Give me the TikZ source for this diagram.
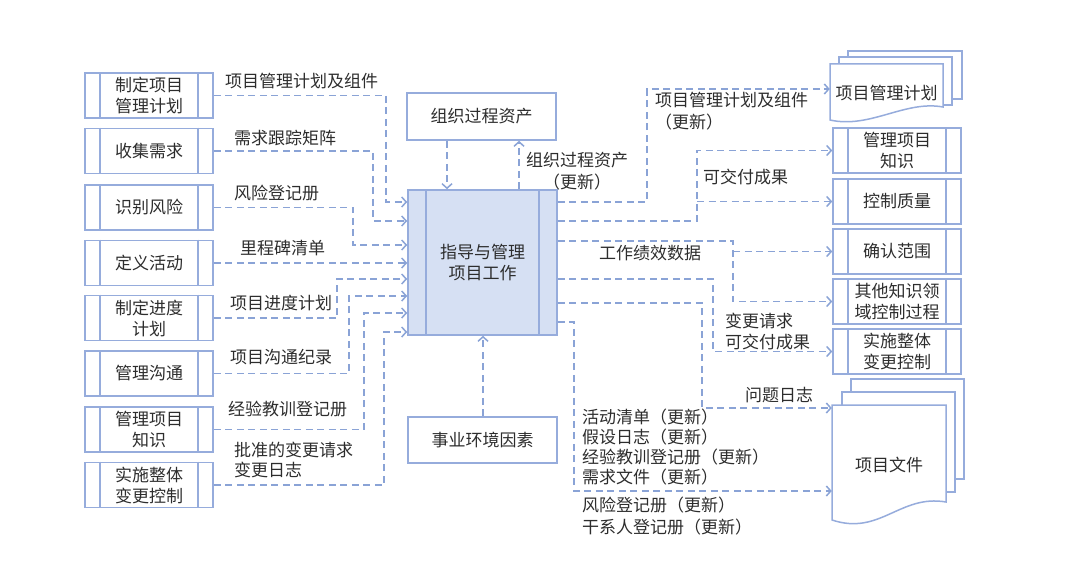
\documentclass[tikz,border=0pt]{standalone}
\usepackage{fontspec}
\setmainfont{Noto Sans CJK SC}
\usetikzlibrary{arrows.meta}
\definecolor{ln}{RGB}{138,163,214}
\definecolor{bx}{RGB}{150,172,220}
\definecolor{fillc}{RGB}{214,224,243}
\definecolor{txt}{RGB}{45,45,45}
\begin{document}
\begin{tikzpicture}[x=1pt,y=-1pt,
  font=\fontsize{17}{21}\selectfont, text=txt,
  proc/.style={draw=bx, line width=1.6pt, minimum width=128pt, minimum height=45pt, align=center, inner sep=0pt},
  plainbox/.style={draw=bx, line width=1.6pt, minimum width=149pt, minimum height=46pt, align=center, inner sep=0pt, fill=white},
  dline/.style={draw=ln, line width=1.8pt, dash pattern=on 7pt off 4.5pt},
  flow/.style={dline, -{Straight Barb[length=4.5pt,width=10pt,line width=1.5pt]}},
  lbl/.style={inner sep=0pt, anchor=west, align=left},
  docpage/.style={draw=bx, line width=1.5pt, fill=white}
]
\useasboundingbox (0,0) rectangle (1067,583);

% left process boxes
\node[proc] (L1) at (149,95.5) {制定项目\\管理计划};
\node[proc] (L2) at (149,151) {收集需求};
\node[proc] (L3) at (149,207.5) {识别风险};
\node[proc] (L4) at (149,263) {定义活动};
\node[proc] (L5) at (149,318) {制定进度\\计划};
\node[proc] (L6) at (149,373.5) {管理沟通};
\node[proc] (L7) at (149,429.5) {管理项目\\知识};
\node[proc] (L8) at (149,485) {实施整体\\变更控制};

% right process boxes
\node[proc] (R1) at (897,150.5) {管理项目\\知识};
\node[proc] (R2) at (897,201.5) {控制质量};
\node[proc] (R3) at (897,251.5) {确认范围};
\node[proc] (R4) at (897,301.5) {其他知识领\\域控制过程};
\node[proc] (R5) at (897,351.5) {实施整体\\变更控制};

\foreach \n in {L1,L2,L3,L4,L5,L6,L7,L8,R1,R2,R3,R4,R5}{
  \draw[draw=bx, line width=1.6pt] ([xshift=16pt]\n.north west) -- ([xshift=16pt]\n.south west);
  \draw[draw=bx, line width=1.6pt] ([xshift=-16pt]\n.north east) -- ([xshift=-16pt]\n.south east);
}

% central process
\node[proc, fill=fillc, minimum width=149pt, minimum height=145pt] (dm) at (482.5,262.5) {指导与管理\\项目工作};
\draw[draw=bx, line width=1.6pt] ([xshift=19pt]dm.north west) -- ([xshift=19pt]dm.south west);
\draw[draw=bx, line width=1.6pt] ([xshift=-19pt]dm.north east) -- ([xshift=-19pt]dm.south east);

% OPA and EEF
\node[plainbox, minimum height=47pt] (opa) at (481.5,116.5) {组织过程资产};
\node[plainbox] (eef) at (482.5,440) {事业环境因素};

% document stacks
\draw[docpage] (848,51) rectangle (962,99);
\draw[docpage] (839,57) rectangle (952,105);
\draw[docpage] (830,64) -- (943,64) -- (943,107) .. controls (905,100) and (870,129) .. (830,120) -- cycle;
\node[inner sep=0pt, minimum width=113pt, minimum height=58pt] (pmp) at (886.5,93) {项目管理计划};

\draw[docpage] (851,379) rectangle (964,479);
\draw[docpage] (842,392) rectangle (955,492);
\draw[docpage] (832,405) -- (946,405) -- (946,502) .. controls (900,494) and (880,536) .. (832,520) -- cycle;
\node[inner sep=0pt, minimum width=114pt, minimum height=115pt] (pd) at (889,462) {};
\node at (889,465) {项目文件};

% left connectors
\draw[flow] (L1.east) -| (386,202) -- (dm.west |- 0,202);
\draw[flow] (L2.east) -| (373,221) -- (dm.west |- 0,221);
\draw[flow] (L3.east) -| (353,245) -- (dm.west |- 0,245);
\draw[flow] (L4.east) -- (dm.west |- L4.east);
\draw[flow] (L5.east) -| (337,279) -- (dm.west |- 0,279);
\draw[flow] (L6.east) -| (349,296) -- (dm.west |- 0,296);
\draw[flow] (L7.east) -| (364,313) -- (dm.west |- 0,313);
\draw[flow] (L8.east) -| (384,332) -- (dm.west |- 0,332);

% OPA / EEF connectors
\draw[flow] (opa.south -| 447,0) -- (dm.north -| 447,0);
\draw[flow] (dm.north -| 519,0) -- (opa.south -| 519,0);
\draw[flow] (eef.north -| 483,0) -- (dm.south -| 483,0);

% right connectors
\draw[flow] (dm.east |- 0,202) -| (647,89) -- (pmp.west |- 0,89);
\draw[flow] (dm.east |- 0,221) -| (697,150.5) -- (R1.west);
\draw[flow] (697,201.5) -- (R2.west);
\draw[flow] (dm.east |- 0,241) -| (733,301.5) -- (R4.west);
\draw[flow] (733,251.5) -- (R3.west);
\draw[flow] (dm.east |- 0,279) -| (713,351.5) -- (R5.west);
\draw[flow] (dm.east |- 0,303) -| (702,408) -- (pd.west |- 0,408);
\draw[flow] (dm.east |- 0,322) -| (574,491) -- (pd.west |- 0,491);

% left labels
\node[lbl] (t1) at (225,81) {项目管理计划及组件};
\node[lbl] (t2) at (234,138) {需求跟踪矩阵};
\node[lbl] (t3) at (234,193) {风险登记册};
\node[lbl] (t4) at (240,248) {里程碑清单};
\node[lbl] (t5) at (230,303) {项目进度计划};
\node[lbl] (t6) at (230,357) {项目沟通纪录};
\node[lbl] (t7) at (228,409) {经验教训登记册};
\node[lbl, font=\fontsize{17}{20}\selectfont] (t8) at (234,460) {批准的变更请求\\变更日志};

% center/right labels
\node[inner sep=0pt, align=center, font=\fontsize{17}{22}\selectfont] (t9) at (577,171) {组织过程资产\\（更新）};
\node[lbl, font=\fontsize{17}{22}\selectfont] (t10) at (655,111) {项目管理计划及组件\\（更新）};
\node[lbl] (t11) at (703,177) {可交付成果};
\node[lbl] (t12) at (599,253) {工作绩效数据};
\node[lbl] (t13) at (725,332) {变更请求\\可交付成果};
\node[lbl] (t14) at (745,395) {问题日志};
\node[lbl, font=\fontsize{17}{20.3}\selectfont] (t15) at (582,447) {活动清单（更新）\\假设日志（更新）\\经验教训登记册（更新）\\需求文件（更新）};
\node[lbl, font=\fontsize{17}{22}\selectfont] (t16) at (582,516) {风险登记册（更新）\\干系人登记册（更新）};
\end{tikzpicture}
\end{document}
